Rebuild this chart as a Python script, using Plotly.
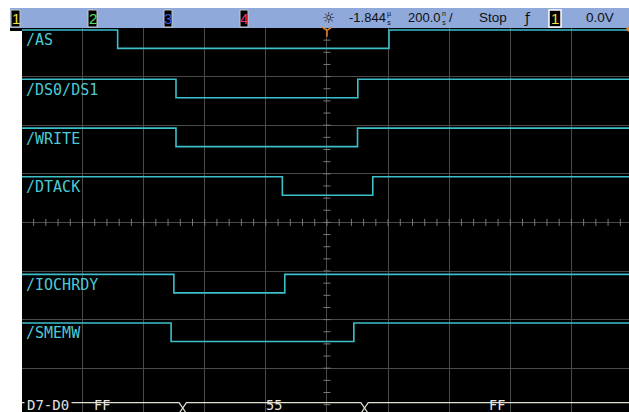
import plotly.graph_objects as go

# ---------------- data (time in ns relative to screen centre, 200 ns/div) ----------------
signal_names = ["/AS", "/DS0/DS1", "/WRITE", "/DTACK", "/IOCHRDY", "/SMEMW"]
as_times = [-998, -685, 203, 989]
as_levels = [1, 0, 1, 1]
ds_times = [-998, -494, 101, 989]
ds_levels = [1, 0, 1, 1]
write_times = [-998, -494, 100, 989]
write_levels = [1, 0, 1, 1]
dtack_times = [-998, -146, 150, 989]
dtack_levels = [1, 0, 1, 1]
iochrdy_times = [-998, -501, -138, 989]
iochrdy_levels = [1, 0, 1, 1]
smemw_times = [-998, -510, 88, 989]
smemw_levels = [1, 0, 1, 1]

bus_name = "D7-D0"
bus_values = ["FF", "55", "FF"]
bus_edges = [-998, -472, 123, 989]

ch_labels = ["1", "2", "3", "4"]
delay_text = "-1.844"
delay_unit = "µ<br>s"
timebase_text = "200.0"
timebase_unit = "n<br>s"
run_state = "Stop"
trig_source = "1"
trig_level = "0.0V"

# ---------------- layout helpers ----------------
W, H = 629, 412
L, T = 22, 28
X_RANGE = [-998, 988.5]
Y_RANGE = [0.099, 8]


def pxx(x):
    return (x - L) / (W - L)


def pxy(y):
    return (H - y) / (H - T)


TRACE_COL = "#3CC0CA"
LABEL_COL = "#4CCAD4"
GRID_COL = "#4a4a4a"
BUS_COL = "#E2E2D2"
ORANGE = "#E8862A"

lane_high = [7.96, 6.945, 5.94, 4.94, 2.93, 1.93]
swing = 0.38

series = [
    (as_times, as_levels),
    (ds_times, ds_levels),
    (write_times, write_levels),
    (dtack_times, dtack_levels),
    (iochrdy_times, iochrdy_levels),
    (smemw_times, smemw_levels),
]

fig = go.Figure()

# centre-axis minor ticks
hx = list(range(-960, 961, 40))
fig.add_trace(go.Scatter(x=hx, y=[4] * len(hx), mode="markers", hoverinfo="skip",
                         marker=dict(symbol="line-ns", size=5, color="#7a7a7a",
                                     line=dict(color="#7a7a7a", width=1))))
vy = [k * 0.25 for k in range(1, 32)]
fig.add_trace(go.Scatter(x=[0] * len(vy), y=vy, mode="markers", hoverinfo="skip",
                         marker=dict(symbol="line-ew", size=5, color="#7a7a7a",
                                     line=dict(color="#7a7a7a", width=1))))

annotations = []
for name, (ts, lv), top in zip(signal_names, series, lane_high):
    ys = [top - swing * (1 - v) for v in lv]
    fig.add_trace(go.Scatter(x=ts, y=ys, mode="lines", line=dict(color=TRACE_COL, width=1.6, shape="hv"),
                             hoverinfo="skip"))
    annotations.append(dict(x=-990, y=top - 0.215, xref="x", yref="y", text=name, showarrow=False,
                            xanchor="left", yanchor="middle",
                            font=dict(family="DejaVu Sans Mono", size=15, color=LABEL_COL)))

# bus
bus_top, bus_bot = 0.29, 0.07
d = 12
xa, ya, xb, yb = [bus_edges[0]], [bus_top], [bus_edges[0]], [bus_bot]
state = 0
for e in bus_edges[1:-1]:
    a0, a1 = (bus_top, bus_bot) if state == 0 else (bus_bot, bus_top)
    xa += [e - d, e + d]
    ya += [a0, a1]
    xb += [e - d, e + d]
    yb += [a1, a0]
    state = 1 - state
xa.append(bus_edges[-1]); ya.append(ya[-1])
xb.append(bus_edges[-1]); yb.append(yb[-1])
for xs, ys in ((xa, ya), (xb, yb)):
    fig.add_trace(go.Scatter(x=xs, y=ys, mode="lines", line=dict(color=BUS_COL, width=1.2), hoverinfo="skip"))

text_y = 0.24
for i, val in enumerate(bus_values):
    x0 = max(bus_edges[i], X_RANGE[0])
    x1 = min(bus_edges[i + 1], X_RANGE[1])
    annotations.append(dict(x=(x0 + x1) / 2, y=text_y, xref="x", yref="y", text=val, showarrow=False,
                            xanchor="center", yanchor="middle",
                            font=dict(family="DejaVu Sans Mono", size=13.5, color="#E6E6E6")))
annotations.append(dict(x=-990, y=text_y, xref="x", yref="y", text=bus_name, showarrow=False,
                        xanchor="left", yanchor="middle", bgcolor="#000000", borderpad=2,
                        font=dict(family="DejaVu Sans Mono", size=14, color="#E0E0E0")))

# trigger marker and right-edge marker
fig.add_trace(go.Scatter(x=[0], y=[7.95], mode="markers", cliponaxis=False, hoverinfo="skip",
                         marker=dict(symbol="y-down-open", size=8, color=ORANGE,
                                     line=dict(color=ORANGE, width=1.5))))
fig.add_trace(go.Scatter(x=[985], y=[7.975], mode="markers", cliponaxis=False, hoverinfo="skip",
                         marker=dict(symbol="triangle-left", size=5, color=ORANGE, line=dict(width=0))))

shapes = []
# top status bar
shapes.append(dict(type="rect", xref="paper", yref="paper", x0=pxx(10), x1=pxx(629), y0=pxy(28), y1=pxy(8),
                   fillcolor="#8EA9DA", line=dict(width=0), layer="below"))
shapes.append(dict(type="rect", xref="paper", yref="paper", x0=pxx(10), x1=pxx(22), y0=pxy(31), y1=pxy(28),
                   fillcolor="#000000", line=dict(width=0)))
badge_x = [(11, 20), (88, 97), (164, 172), (240, 248)]
badge_col = ["#F2E23A", "#5CE05C", "#3A5EE8", "#E8307A"]
for (a, b), lab, col in zip(badge_x, ch_labels, badge_col):
    shapes.append(dict(type="rect", xref="paper", yref="paper", x0=pxx(a), x1=pxx(b), y0=pxy(27), y1=pxy(10),
                       fillcolor="#000000", line=dict(color="#C8C8C8", width=1)))
    annotations.append(dict(x=pxx((a + b) / 2), y=pxy(18.5), xref="paper", yref="paper", text=lab,
                            showarrow=False, xanchor="center", yanchor="middle",
                            font=dict(family="Liberation Sans", size=15, color=col)))
shapes.append(dict(type="rect", xref="paper", yref="paper", x0=pxx(549), x1=pxx(561), y0=pxy(27), y1=pxy(10),
                   fillcolor="#000000", line=dict(color="#FFFFFF", width=1.5)))
annotations.append(dict(x=pxx(555), y=pxy(18.5), xref="paper", yref="paper", text=trig_source,
                        showarrow=False, xanchor="center", yanchor="middle",
                        font=dict(family="Liberation Sans", size=15, color="#F2E23A")))


def bar_text(x, text, size=13.5, anchor="left", y=18, family="Liberation Sans"):
    annotations.append(dict(x=pxx(x), y=pxy(y), xref="paper", yref="paper", text=text, showarrow=False,
                            xanchor=anchor, yanchor="middle", borderpad=0,
                            font=dict(family=family, size=size, color="#101010")))


bar_text(328, "☼", size=15, anchor="center", family="DejaVu Sans")
bar_text(348, delay_text, size=13)
bar_text(386.5, delay_unit, size=7)
bar_text(407, timebase_text, size=13)
bar_text(441.5, timebase_unit, size=7)
bar_text(448, "/", size=13)
bar_text(478, run_state)
bar_text(523, "ƒ", size=14, family="DejaVu Sans")
bar_text(585, trig_level)

fig.update_layout(
    width=W, height=H,
    margin=dict(l=L, r=0, t=T, b=0, pad=0),
    paper_bgcolor="#FFFFFF", plot_bgcolor="#000000",
    showlegend=False,
    shapes=shapes, annotations=annotations,
    xaxis=dict(range=X_RANGE, tick0=0, dtick=200, showgrid=True, gridcolor=GRID_COL, gridwidth=1,
               zeroline=False, showticklabels=False, ticks="", showline=False, fixedrange=True),
    yaxis=dict(range=Y_RANGE, tick0=0, dtick=1, showgrid=True, gridcolor=GRID_COL, gridwidth=1,
               zeroline=False, showticklabels=False, ticks="", showline=False, fixedrange=True),
)
fig.write_html("out.html")
